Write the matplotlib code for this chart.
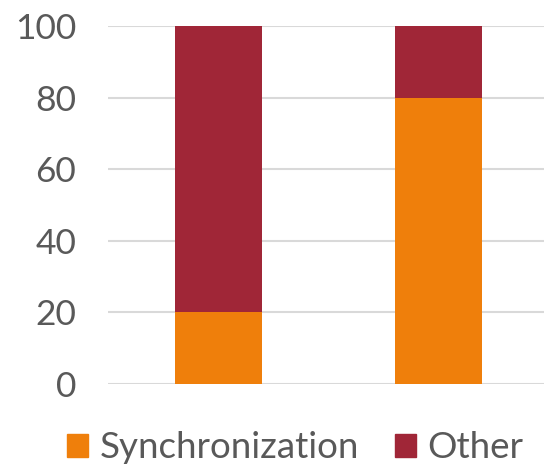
import matplotlib
matplotlib.use("Agg")
import matplotlib.pyplot as plt
from matplotlib.patches import Patch

plt.rcParams['font.family'] = ['Lato', 'DejaVu Sans']

categories = ["A", "B"]
synchronization = [20, 80]
other = [80, 20]
series_names = ["Synchronization", "Other"]
y_ticks = [0, 20, 40, 60, 80, 100]

c_sync = "#EF7F0B"
c_other = "#A02637"
text_c = "#595959"

fig = plt.figure(figsize=(5.44, 4.67), dpi=100)
ax = fig.add_axes([108/544, 83/467, 1 - 108/544, (384-26)/467])

x = list(range(len(categories)))
ax.bar(x, synchronization, width=0.395, color=c_sync, zorder=3)
ax.bar(x, other, width=0.395, bottom=synchronization, color=c_other, zorder=3)

ax.set_xlim(-0.502, 1.48)
ax.set_ylim(0, 100)
ax.set_yticks(y_ticks)
ax.set_yticklabels([str(t) for t in y_ticks], fontsize=25.5, color=text_c)
ax.set_xticks([])
ax.tick_params(axis='y', length=0, pad=23)
ax.yaxis.grid(True, color="#D9D9D9", linewidth=1.5, zorder=0)
for s in ax.spines.values():
    s.set_visible(False)

handles = [Patch(color=c_sync), Patch(color=c_other)]
fig.legend(handles, series_names, loc="lower center", bbox_to_anchor=(0.543, 0.002),
           ncol=2, frameon=False, fontsize=26.5, labelcolor=text_c,
           borderpad=0.05, borderaxespad=0,
           handlelength=0.57, handleheight=0.57, handletextpad=0.3, columnspacing=1.0)

fig.savefig("out.png", dpi=100)
